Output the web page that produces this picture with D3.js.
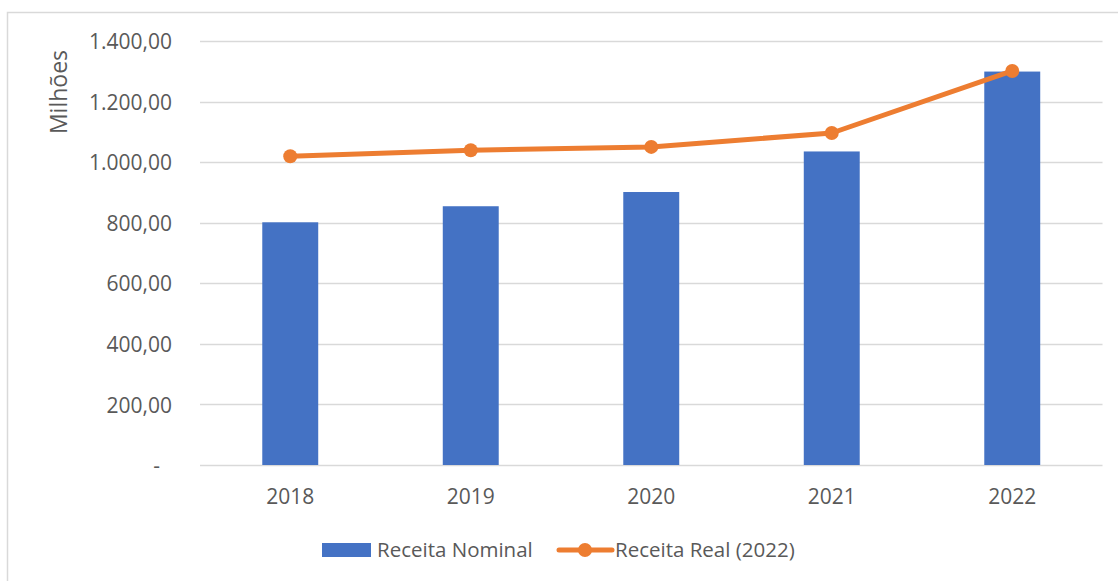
<!DOCTYPE html>
<html>
<head>
<meta charset="utf-8">
<script src="https://cdn.jsdelivr.net/npm/d3@7"></script>
<style>
  body { margin: 0; background: #fff; }
  svg text { font-family: "Open Sans", sans-serif; fill: #595959; }
</style>
</head>
<body>
<div id="chart"></div>
<script>
// data (milhões)
const years = ["2018", "2019", "2020", "2021", "2022"];
const receitaNominal = [802, 855, 902, 1036, 1300];
const receitaReal = [1020, 1040, 1051, 1097, 1302];
const yTicks = [0, 200, 400, 600, 800, 1000, 1200, 1400];
const seriesNames = ["Receita Nominal", "Receita Real (2022)"];

const width = 1118, height = 581;
const blue = "#4472C4", orange = "#ED7D31", grid = "#D9D9D9";

const svg = d3.select("#chart").append("svg")
    .attr("width", width)
    .attr("height", height);

// chart frame (runs off the right/bottom like the original)
svg.append("rect")
    .attr("x", 7.5).attr("y", 12.5)
    .attr("width", 1130).attr("height", 600)
    .attr("fill", "none")
    .attr("stroke", grid)
    .attr("stroke-width", 1.5);

const x = d3.scaleBand()
    .domain(years)
    .range([200, 1102.5])
    .paddingInner(0.69)
    .paddingOuter(0.345);

const y = d3.scaleLinear()
    .domain([0, 1400])
    .range([465, 41.3]);

const ptbr = d3.formatLocale({decimal: ",", thousands: ".", grouping: [3], currency: ["", ""]});
const fmt = ptbr.format(",.2f");

// gridlines
svg.append("g")
    .selectAll("line")
    .data(yTicks)
    .enter().append("line")
    .attr("x1", 200).attr("x2", 1102.5)
    .attr("y1", d => Math.round(y(d)) + 0.5)
    .attr("y2", d => Math.round(y(d)) + 0.5)
    .attr("stroke", grid)
    .attr("stroke-width", 1.5);

// y axis labels
let yAxis = g => g
    .attr("transform", "translate(172,0)")
    .call(d3.axisLeft(y).tickValues(yTicks).tickSize(0).tickPadding(0)
        .tickFormat(d => d === 0 ? "-" : fmt(d)))
    .call(g => g.select(".domain").remove())
    .call(g => g.selectAll("text")
        .attr("font-size", 21)
        .attr("font-family", null)
        .attr("dy", "0.36em")
        .attr("dx", d => d === 0 ? -12 : 0));
svg.append("g").call(yAxis);

// x axis labels
let xAxis = g => g
    .attr("transform", "translate(0,465)")
    .call(d3.axisBottom(x).tickSize(0).tickPadding(0))
    .call(g => g.select(".domain").remove())
    .call(g => g.selectAll("text")
        .attr("font-size", 21)
        .attr("font-family", null)
        .attr("dy", null)
        .attr("y", 39));
svg.append("g").call(xAxis);

// axis title
svg.append("text")
    .attr("transform", "translate(67,92) rotate(-90)")
    .attr("text-anchor", "middle")
    .attr("font-size", 23)
    .text("Milhões");

// bars
svg.append("g")
    .selectAll("rect")
    .data(receitaNominal)
    .enter().append("rect")
    .attr("x", (d, i) => x(years[i]))
    .attr("y", d => y(d))
    .attr("width", x.bandwidth())
    .attr("height", d => y(0) - y(d))
    .attr("fill", blue);

// line
const cx = (d, i) => x(years[i]) + x.bandwidth() / 2;
let line = d3.line()
    .x(cx)
    .y(d => y(d));

svg.append("path")
    .datum(receitaReal)
    .attr("fill", "none")
    .attr("stroke", orange)
    .attr("stroke-width", 5)
    .attr("stroke-linejoin", "round")
    .attr("d", line);

svg.append("g")
    .selectAll("circle")
    .data(receitaReal)
    .enter().append("circle")
    .attr("cx", cx)
    .attr("cy", d => y(d))
    .attr("r", 7)
    .attr("fill", orange);

// legend
const lg = svg.append("g");
lg.append("rect")
    .attr("x", 322).attr("y", 543)
    .attr("width", 49).attr("height", 14)
    .attr("fill", blue);
lg.append("text")
    .attr("x", 377).attr("y", 557)
    .attr("font-size", 20.5)
    .text(seriesNames[0]);
lg.append("line")
    .attr("x1", 559).attr("x2", 612)
    .attr("y1", 550).attr("y2", 550)
    .attr("stroke", orange)
    .attr("stroke-width", 5)
    .attr("stroke-linecap", "round");
lg.append("circle")
    .attr("cx", 585).attr("cy", 550)
    .attr("r", 7)
    .attr("fill", orange);
lg.append("text")
    .attr("x", 615).attr("y", 557)
    .attr("font-size", 20.5)
    .text(seriesNames[1]);
</script>
</body>
</html>
